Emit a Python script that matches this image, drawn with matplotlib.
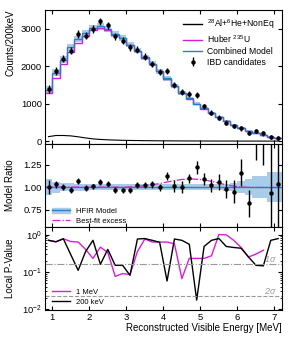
import matplotlib
matplotlib.use("Agg")
import matplotlib.pyplot as plt
import matplotlib.patches as mpatches
from matplotlib.lines import Line2D
import numpy as np

plt.rcParams['font.family'] = ['Liberation Sans', 'DejaVu Sans']
plt.rcParams['mathtext.fontset'] = 'custom'
plt.rcParams['mathtext.rm'] = 'Liberation Sans'
plt.rcParams['mathtext.it'] = 'Liberation Sans:italic'

# 200 keV bins, 0.8 - 7.2 MeV
edges = np.round(np.arange(0.8, 7.21, 0.2), 2)
centers = np.round(np.arange(0.9, 7.11, 0.2), 2)

# top panel: counts per bin
ibd = [1385, 1865, 2200, 2415, 2860, 2815, 2990, 3195, 3090, 2795, 2680, 2505,
       2440, 2250, 2060, 1835, 1865, 1490, 1315, 1260, 1225, 930, 755, 625,
       490, 400, 340, 224, 275, 205, 107, 75]
ibd_err = [100, 100, 100, 100, 100, 98, 98, 98, 97, 96, 95, 93, 91, 89, 87, 84,
           82, 80, 78, 76, 74, 71, 68, 66, 64, 62, 60, 58, 57, 56, 55, 54]
combined = [1375, 1820, 2175, 2500, 2725, 2885, 3020, 3060, 3000, 2860, 2760, 2575,
            2415, 2235, 2060, 1865, 1670, 1465, 1290, 1140, 995, 870, 750, 640,
            530, 430, 350, 280, 215, 160, 115, 75]
combined_err = [90, 90, 90, 90, 88, 86, 85, 84, 82, 80, 78, 75, 72, 70, 66, 62,
                58, 55, 52, 48, 45, 42, 38, 35, 32, 28, 25, 22, 20, 18, 16, 14]
huber = [1270, 1690, 2060, 2370, 2620, 2805, 2965, 3015, 2965, 2832, 2738, 2557,
         2400, 2223, 2050, 1857, 1663, 1459, 1285, 1136, 991, 867, 747, 638,
         528, 428, 349, 279, 214, 159, 114, 74]
bkg = [120, 150, 150, 140, 115, 85, 60, 45, 35, 28, 22, 18, 15, 12, 10, 8,
       7, 6, 5, 4, 4, 3, 3, 2, 2, 2, 1, 1, 1, 1, 1, 1]

# middle panel: ratio to HFIR model
ratio = [1.00, 1.03, 1.00, 0.97, 1.07, 0.99, 1.01, 1.055, 1.04, 0.97, 0.965, 0.965,
         1.02, 1.02, 1.03, 1.00, 1.125, 1.015, 1.00, 1.10, 1.22, 1.09, 1.02, 1.055,
         0.975, 0.95, 1.16, 0.82, 1.80, 1.74, 0.935, 1.04]
ratio_err = [0.075, 0.04, 0.035, 0.03, 0.03, 0.03, 0.03, 0.03, 0.03, 0.03, 0.03, 0.03,
             0.035, 0.035, 0.04, 0.04, 0.045, 0.065, 0.065, 0.05, 0.07, 0.07, 0.07, 0.09,
             0.10, 0.13, 0.15, 0.15, 0.50, 0.50, 0.80, 0.80]
hfir_err = [0.085, 0.06, 0.048, 0.043, 0.04, 0.038, 0.036, 0.034, 0.033, 0.033, 0.033, 0.033,
            0.033, 0.033, 0.033, 0.033, 0.033, 0.033, 0.033, 0.033, 0.033, 0.034, 0.035, 0.037,
            0.04, 0.045, 0.065, 0.09, 0.12, 0.12, 0.165, 0.165]
exc_e = [0.8, 3.0, 3.3, 3.6, 3.9, 4.2, 4.5, 4.8, 5.1, 5.4, 5.7, 6.0, 6.3, 7.2]
exc_r = [1.0, 1.0, 1.008, 1.02, 1.04, 1.065, 1.085, 1.09, 1.08, 1.055, 1.025, 1.005, 0.997, 0.995]

# bottom panel: local p-values
p_200kev = [0.70, 0.64, 0.77, 0.29, 0.11, 0.35, 0.70, 0.16, 0.40, 0.15, 0.15, 0.081,
            0.76, 0.78, 0.70, 0.62, 0.057, 0.76, 0.70, 0.55, 0.0176, 0.48, 0.70, 0.78,
            0.48, 0.45, 0.43, 0.25, 0.15, 0.145, 0.70, 0.78]
e_1mev = centers[:30]
p_1mev = [0.70, 0.64, 0.77, 0.65, 0.63, 0.40, 0.23, 0.46, 0.33, 0.076, 0.09, 0.085,
          0.35, 0.76, 0.63, 0.63, 0.63, 0.565, 0.066, 0.23, 0.23, 0.23, 0.27, 1.0,
          0.98, 0.70, 0.45, 0.25, 0.30, 0.38]
sig1 = 0.1587
sig2 = 0.0228

blue = '#2f7cc4'
band = '#a9cde9'
mag = '#d81ed8'

fig = plt.figure(figsize=(2.93, 3.40), dpi=100)
gs = fig.add_gridspec(3, 1, height_ratios=[1.61, 1, 1], hspace=0,
                      left=0.153, right=0.962, top=0.971, bottom=0.088)
ax1 = fig.add_subplot(gs[0])
ax2 = fig.add_subplot(gs[1], sharex=ax1)
ax3 = fig.add_subplot(gs[2], sharex=ax1)

# --- top panel
comb = np.array(combined)
cerr = np.array(combined_err)
ax1.stairs(comb + cerr, edges, baseline=comb - cerr, fill=True, color=band, lw=0)
ax1.stairs(huber, edges, baseline=None, color=mag, lw=1.0)
ax1.stairs(combined, edges, baseline=None, color=blue, lw=1.0)
ax1.plot(centers, bkg, color='k', lw=0.8)
ax1.errorbar(centers, ibd, yerr=ibd_err, fmt='o', color='k', ms=2.2, elinewidth=1, capsize=0)
ax1.set_ylim(-70, 3500)
ax1.set_yticks([0, 1000, 2000, 3000])
ax1.set_ylabel('Counts/200keV', fontsize=7, loc='top')
hnd = [Line2D([], [], color='k', lw=1),
       Line2D([], [], color=mag, lw=1),
       Line2D([], [], color=blue, lw=1),
       ax1.errorbar([], [], yerr=[], fmt='o', color='k', ms=2.2, elinewidth=1)]
ax1.legend(hnd, [r'$^{28}$Al+$^{6}$He+NonEq', r'Huber $^{235}$U', 'Combined Model', 'IBD candidates'],
           loc='upper right', frameon=False, fontsize=6.2, handlelength=2.3,
           labelspacing=0.22, handletextpad=0.5, bbox_to_anchor=(1.0, 1.0))

# --- ratio panel
herr = np.array(hfir_err)
ax2.stairs(1 + herr, edges, baseline=1 - herr, fill=True, color=band, lw=0)
ax2.axhline(1.0, color=blue, lw=1.0)
ax2.plot(exc_e, exc_r, color=mag, lw=0.9, ls='-.')
ax2.errorbar(centers, ratio, yerr=ratio_err, fmt='o', color='k', ms=2.2, elinewidth=1, capsize=0)
ax2.set_ylim(0.56, 1.48)
ax2.set_yticks([0.75, 1.0, 1.25])
ax2.set_yticklabels(['0.75', '1.00', '1.25'])
ax2.set_ylabel('Model Ratio', fontsize=7)
hfir_h = (mpatches.Patch(color=band), Line2D([], [], color=blue, lw=1))
exc_h = Line2D([], [], color=mag, lw=0.9, ls='-.')
ax2.legend([hfir_h, exc_h], ['HFIR Model', 'Best-fit excess'], loc='lower left',
           frameon=False, fontsize=5.5, handlelength=2.4, labelspacing=0.35,
           bbox_to_anchor=(0.0, -0.06))

# --- p-value panel
ax3.plot(e_1mev, p_1mev, color=mag, lw=1.0, label='1 MeV')
ax3.plot(centers, p_200kev, color='k', lw=1.0, label='200 keV')
ax3.axhline(sig1, color='0.6', lw=0.8, ls='-.')
ax3.axhline(sig2, color='0.6', lw=0.8, ls='--')
ax3.text(6.72, sig1 * 1.02, r'1$\sigma$', color='0.6', fontsize=6.5, style='italic', va='bottom')
ax3.text(6.72, sig2 * 1.02, r'2$\sigma$', color='0.6', fontsize=6.5, style='italic', va='bottom')
ax3.set_yscale('log')
ax3.set_ylim(0.0095, 1.6)
ax3.set_ylabel('Local P-Value', fontsize=7)
ax3.set_xlabel('Reconstructed Visible Energy [MeV]', fontsize=7, loc='right', labelpad=1)
ax3.legend(loc='lower left', frameon=False, fontsize=5.5, handlelength=2.4,
           labelspacing=0.3, bbox_to_anchor=(0.0, -0.03))

ax1.set_xlim(0.8, 7.2)
ax3.set_xticks([1, 2, 3, 4, 5, 6, 7])
for ax in (ax1, ax2, ax3):
    ax.tick_params(which='both', direction='in', top=True, right=True, labelsize=6.8, pad=2)
    ax.tick_params(which='major', length=3)
    ax.tick_params(which='minor', length=1.5)
plt.setp(ax1.get_xticklabels(), visible=False)
plt.setp(ax2.get_xticklabels(), visible=False)
fig.align_ylabels([ax1, ax2, ax3])

fig.savefig('out.png', dpi=100)
